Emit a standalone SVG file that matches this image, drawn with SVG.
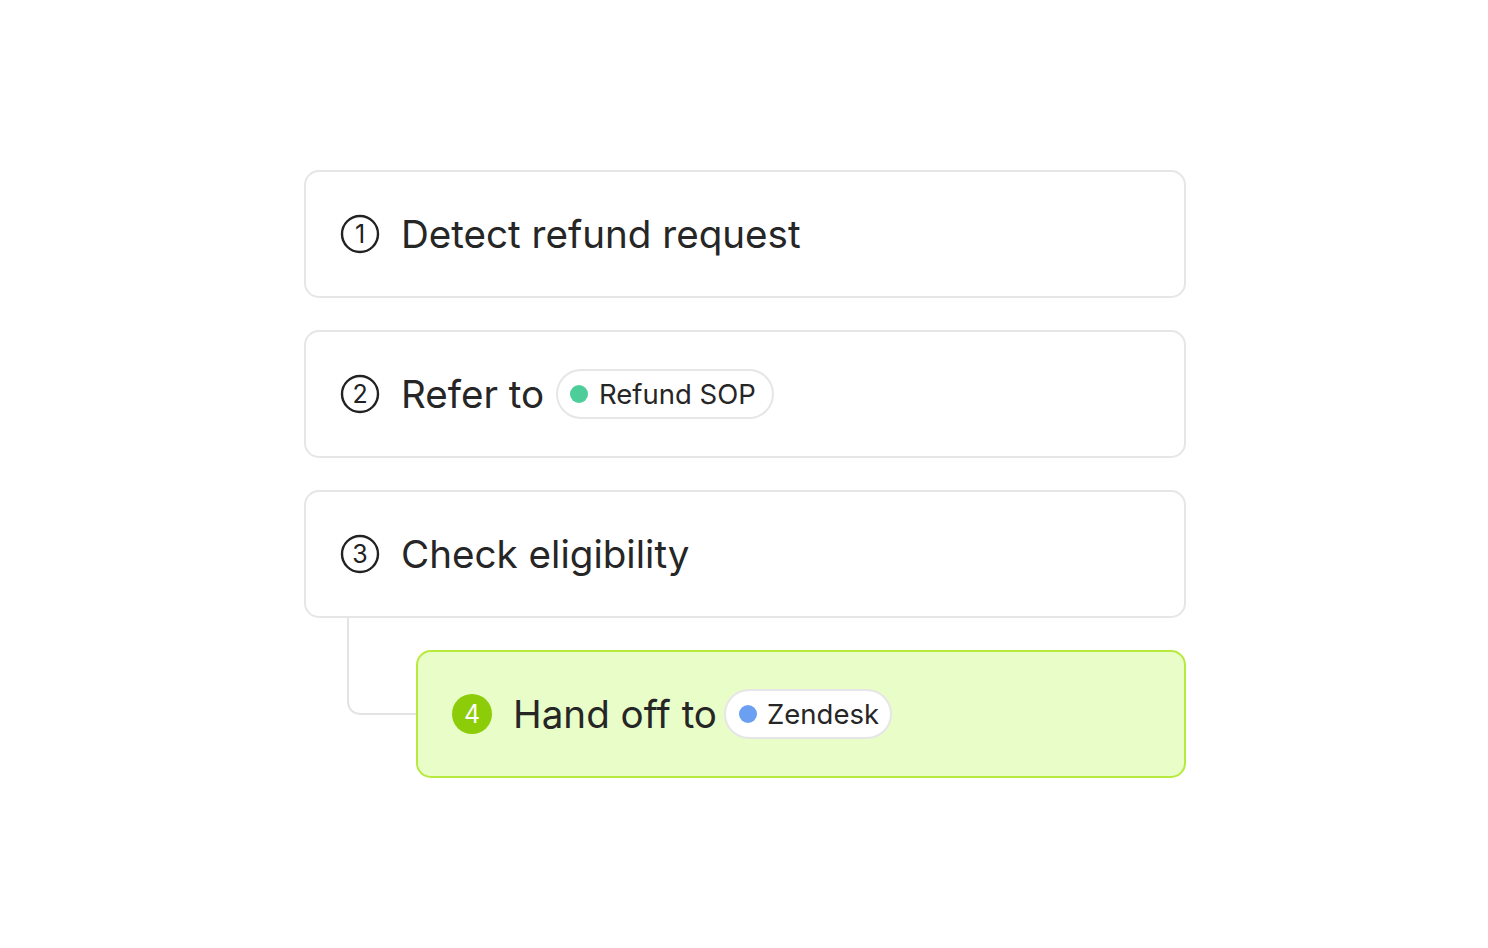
<svg xmlns="http://www.w3.org/2000/svg" width="1488" height="948" viewBox="0 0 1488 948">
<style>
.card{fill:#ffffff;stroke:#e6e6e6;stroke-width:2}
.hl{fill:#e9fdc9;stroke:#b6ea3c;stroke-width:2}
.num{fill:none;stroke:#222;stroke-width:2.4}
.numt{font-family:Inter,"Noto Sans",sans-serif;font-size:25px;fill:#222;text-anchor:middle}
.lbl{font-family:Inter,"Noto Sans",sans-serif;font-size:38.6px;fill:#262626}
.pill{fill:#ffffff;stroke:#e6e6e6;stroke-width:2}
.pt{font-family:Inter,"Noto Sans",sans-serif;font-size:27.5px;fill:#262626}
.conn{fill:none;stroke:#e3e3e3;stroke-width:2}
</style>
<rect width="1488" height="948" fill="#ffffff"/>
<g id="connectors">
<path class="conn" d="M348,618 V700 Q348,714 362,714 H417"/>
</g>
<g id="step1">
<rect class="card" x="305" y="171" width="880" height="126" rx="14"/>
<circle class="num" cx="360" cy="234" r="18"/>
<text class="numt" x="360" y="243">1</text>
<text class="lbl" x="401" y="248">Detect refund request</text>
</g>
<g id="step2">
<rect class="card" x="305" y="331" width="880" height="126" rx="14"/>
<circle class="num" cx="360" cy="394" r="18"/>
<text class="numt" x="360" y="403">2</text>
<text class="lbl" x="401" y="408">Refer to</text>
<rect class="pill" x="557" y="370" width="216" height="48" rx="24"/>
<circle cx="579" cy="394" r="9" fill="#4ccd99"/>
<text class="pt" x="599" y="404">Refund SOP</text>
</g>
<g id="step3">
<rect class="card" x="305" y="491" width="880" height="126" rx="14"/>
<circle class="num" cx="360" cy="554" r="18"/>
<text class="numt" x="360" y="563">3</text>
<text class="lbl" x="401" y="568">Check eligibility</text>
</g>
<g id="step4">
<rect class="hl" x="417" y="651" width="768" height="126" rx="14"/>
<circle cx="472" cy="714" r="20" fill="#8dcc08"/>
<text class="numt" x="472" y="723" style="fill:#ffffff">4</text>
<text class="lbl" x="513" y="728">Hand off to</text>
<rect class="pill" x="725" y="690" width="166" height="48" rx="24"/>
<circle cx="748" cy="714" r="9" fill="#6a9ff1"/>
<text class="pt" x="767" y="724">Zendesk</text>
</g>
</svg>
